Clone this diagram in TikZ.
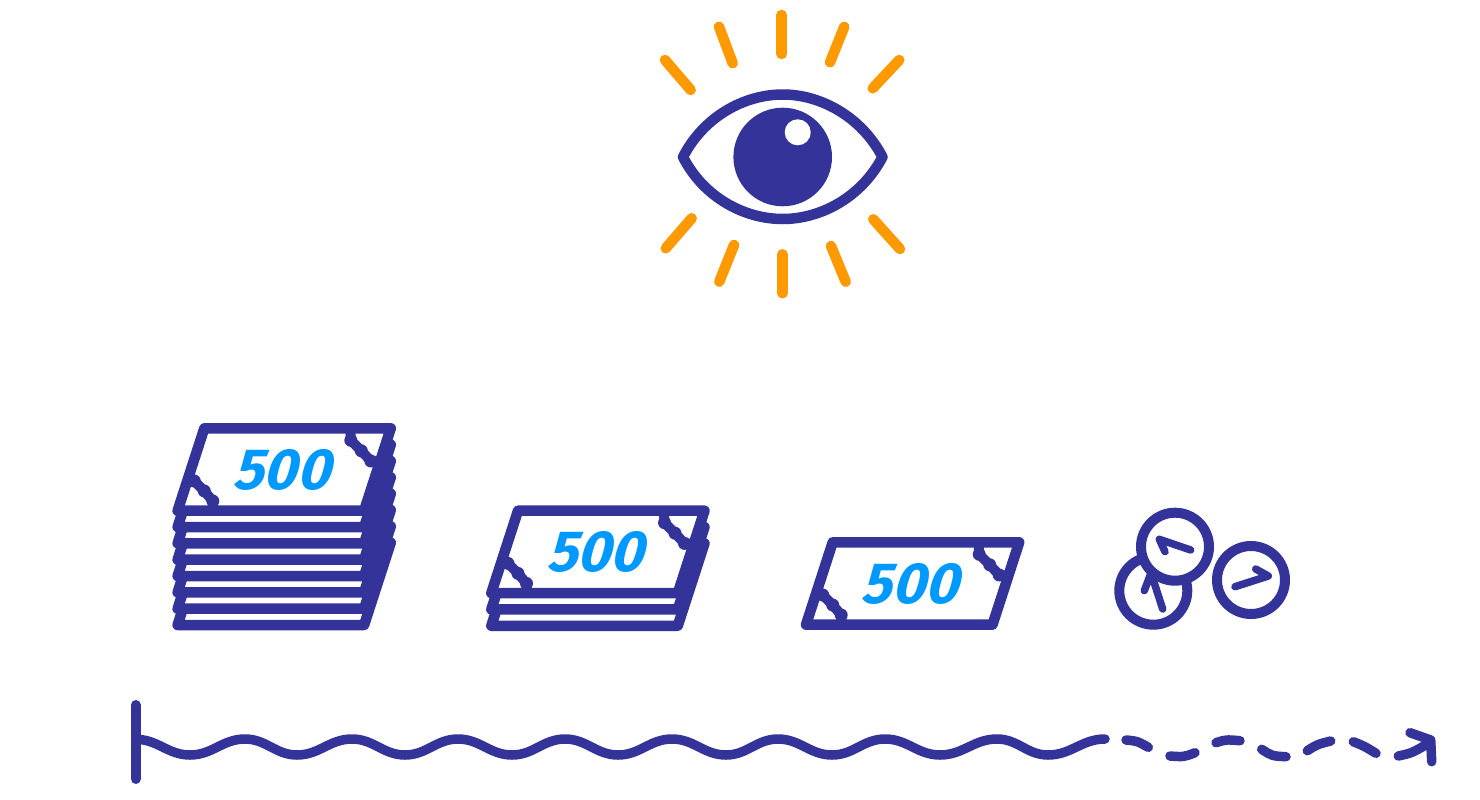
\documentclass[tikz,border=0pt]{standalone}
\usepackage{fontspec}
\newfontfamily\notefont[FakeSlant=0.28]{Fira Sans}
\definecolor{navy}{HTML}{333399}
\definecolor{ray}{HTML}{FF9900}
\definecolor{amount}{HTML}{0099FF}
\tikzstyle{outline} = [draw=navy, 
line width=10.5pt, 
line cap=round, 
line join=round]
\tikzstyle{sunray} = [draw=ray, 
line width=10.5pt, 
line cap=round]
\tikzstyle{coin} = [circle, 
minimum size=68pt, 
inner sep=0pt, 
draw=navy, 
fill=white, 
line width=10pt]
\tikzstyle{coinmark} = [draw=navy, 
line width=7.5pt, 
line cap=round, 
line join=round]
\tikzstyle{timeline} = [draw=navy, 
line width=9.5pt, 
line cap=round, 
line join=round]
\tikzstyle{chain} = [draw=navy, 
line width=10pt]
\tikzstyle{amounttext} = [text=amount, 
inner sep=0pt, 
xscale=0.98, 
font=\notefont\bfseries\fontsize{58}{58}\selectfont]
\tikzset{
  sheet/.pic={
    \path [outline, fill=white] (0,0) -- (186.5,0) -- (159.8,82.4) -- (-26.7,82.4) -- cycle;
  },
  front/.pic={
    \path [outline, fill=white] (0,0) -- (186.5,0) -- (159.8,82.4) -- (-26.7,82.4) -- cycle;
    \draw [chain] (146,2) -- (146.5,12) -- (157,22.5) -- (166.5,32.7) -- (172,33);
    \draw [chain] (-13,50) -- (-10,52.7) -- (0,62.7) -- (8.5,72.7) -- (9,80);
    \foreach \bx/\by in {146.5/12, 157/22.5, 166.5/32.7, -10/52.7, 0/62.7, 8.5/72.7}
      \fill [navy] (\bx,\by) circle (6.5pt);
    \node (-amount) [amounttext] at (76.5,41.2) {500};
  }
}

\begin{document}
\begin{tikzpicture}[x=1pt, y=-1pt]
    \useasboundingbox (0,0) rectangle (1480,800);

    % eye
    \draw [outline, fill=white] (683,157) .. controls (704,116) and (745,94.5) .. (782.7,94.5)
      .. controls (820,94.5) and (861,116) .. (882.5,157)
      .. controls (861,198) and (820,219) .. (782.7,219)
      .. controls (745,219) and (704,198) .. (683,157) -- cycle;
    \fill [navy] (782.7,157) circle (49.3pt);
    \fill [white] (797.7,132.3) circle (13pt);
    \foreach \ax/\ay/\bx/\by in {781.7/15/781.7/54, 719/26.7/732.7/63.3, 665/60/690.7/90,
      844.3/26.7/830/62.3, 899.3/60/872.7/88.3, 691.7/218.3/665.7/248.3, 734/245/719.3/281.7,
      782.3/254.3/782.3/293.3, 831/246/845.7/281.7, 873.3/219.3/900/249}
      \draw [sunray] (\ax,\ay) -- (\bx,\by);

    % big stack
    \foreach \i in {7,...,1}
      \pic at (204.3,{428.3+16.33*\i}) {sheet};
    \pic (noteA) at (204.3,428.3) {front};

    % small stack
    \foreach \i in {2,1}
      \pic at (518,{510.7+16.33*\i}) {sheet};
    \pic (noteB) at (518,510.7) {front};

    % single note
    \pic (noteC) at (832.7,542.3) {front};

    % coins
    \node (coinB) [coin] at (1153.3,590.7) {};
    \draw [coinmark] (1162.7,609) -- (1151,573) -- (1144.3,590.7);
    \node (coinA) [coin] at (1175,546.7) {};
    \draw [coinmark] (1190.7,550) -- (1159.3,539.3) -- (1165,551.7);
    \node (coinC) [coin] at (1251,580) {};
    \draw [coinmark] (1235,586.7) -- (1268.3,576) -- (1255.7,569);

    % timeline
    \draw [timeline, line width=10pt] (135.7,705) -- (135.7,779);
    \draw [timeline] (135.7,739.3)
      \foreach \wx/\wy in {190/755, 245/739, 297/755, 352/739, 405/755, 458/739, 512/755, 565/739,
        618/755, 672/739, 726/755, 778/739, 832/755, 885/739, 940/755, 997/739, 1048/755, 1105/739}
      { to [out=0, in=180] (\wx,\wy) };
    \draw [timeline] (1126,740) .. controls (1137,741) .. (1148.3,747.3);
    \draw [timeline] (1170,756) .. controls (1184,757) .. (1195,752.7);
    \draw [timeline] (1216,742.7) .. controls (1226,739.5) .. (1240,740.7);
    \draw [timeline] (1261.7,749.3) .. controls (1272,756) .. (1286,756.7);
    \draw [timeline] (1307.3,750.7) .. controls (1317,744.5) .. (1330.7,741);
    \draw [timeline] (1353.3,741.7) .. controls (1364,746) .. (1376,753.3);
    \draw [timeline] (1398.3,756) .. controls (1412,753) .. (1429,743);
    \draw [timeline] (1410,732.7) -- (1430.7,740) -- (1431.7,761.7);
  \end{tikzpicture}
\end{document}
